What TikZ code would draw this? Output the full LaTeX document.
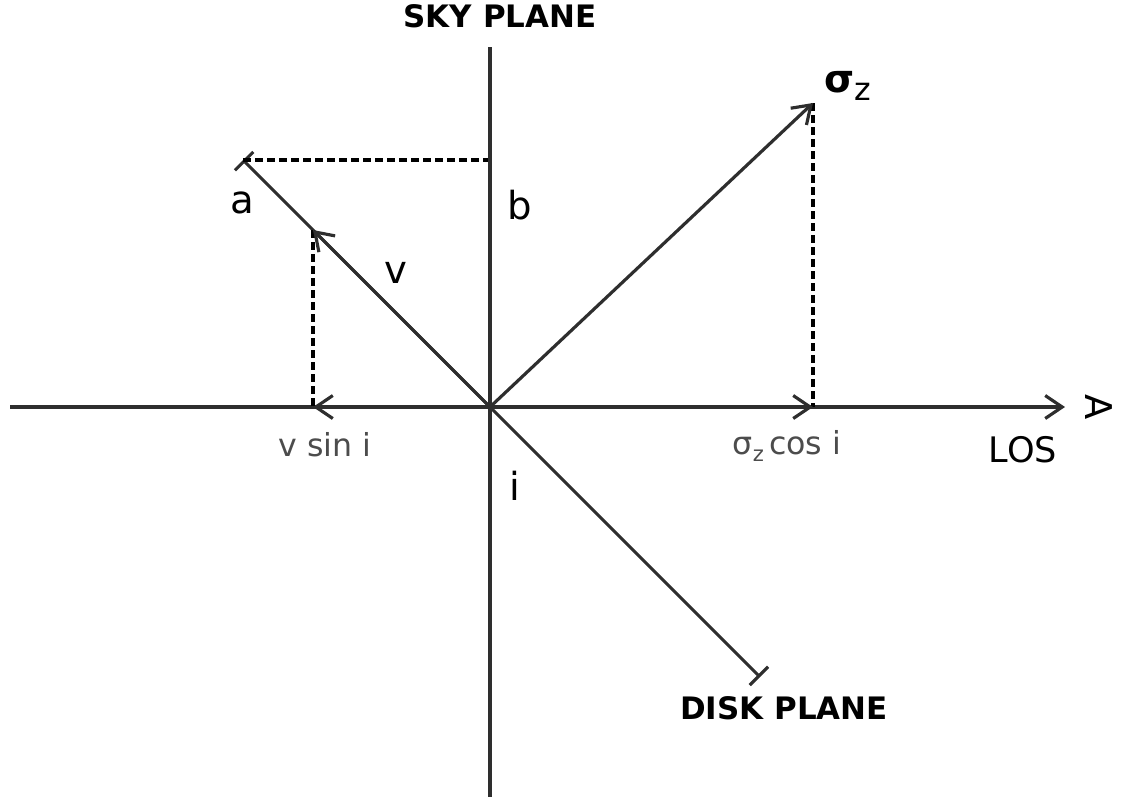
\documentclass[tikz,border=0pt]{standalone}
\usepackage{fontspec}
\setmainfont{DejaVu Sans}
\usetikzlibrary{arrows.meta,positioning}

\begin{document}
\begin{tikzpicture}[x=0.1mm,y=-0.1mm,
  axis/.style={line width=0.9pt, draw=black!82},
  vec/.style={axis, -{Straight Barb[length=1.7mm,width=2.3mm,line width=0.9pt]}},
  proj/.style={line width=1pt, dash pattern=on 0.8mm off 0.4mm},
  lbl/.style={font=\fontsize{11}{13}\selectfont},
  gry/.style={font=\fontsize{9}{11}\selectfont, text=black!70},
  ttl/.style={font=\fontsize{8.8}{11}\selectfont\bfseries}]
\useasboundingbox (0,0) rectangle (1125,801);

% main points
\coordinate (O) at (490,407);
\coordinate (skyT) at (490,47);
\coordinate (skyB) at (490,797);
\coordinate (losL) at (10,407);
\coordinate (losR) at (1065,407);
\coordinate (aEnd) at (243,160);
\coordinate (dEnd) at (760,677);
\coordinate (bPt) at (488,160);
\coordinate (vTip) at (313,230);
\coordinate (vProj) at (313,407);
\coordinate (sTip) at (813,103);
\coordinate (sProj) at (813,407);

% axes
\draw[axis] (skyT) -- (skyB);
\draw[vec] (losL) -- (losR);
\draw[axis, {Bar[width=2.6mm,line width=0.9pt]}-{Bar[width=2.6mm,line width=0.9pt]}] (aEnd) -- (dEnd);

% projections
\draw[proj] (aEnd) -- (bPt);
\draw[proj] (vTip) -- (vProj);
\draw[proj] (sTip) -- (sProj);

% vectors
\draw[vec] (O) -- (vTip);
\draw[vec] (O) -- (vProj);
\draw[vec] (O) -- (sTip);
\draw[vec] (O) -- (sProj);

% labels
\node[ttl] (sky) at (500,16) {SKY PLANE};
\node[ttl] (disk) at (784,708) {DISK PLANE};
\node[lbl] (la) at (242,203) {a};
\node[lbl] (lb) at (520,205) {b};
\node[lbl] (lv) at (396,273) {v};
\node[lbl] (li) at (515,486) {i};
\node[lbl, anchor=west] (lsig) at (812,86) {\textbf{σ}\raisebox{-0.35ex}{\fontsize{9}{11}\selectfont z}};
\node[gry] (lvsin) at (325,445) {v sin i};
\node[gry] (lscos) at (787,446) {σ\raisebox{-0.4ex}{\fontsize{6}{7}\selectfont z}\,cos i};
\node[font=\fontsize{10}{12}\selectfont] (los) at (1023,450) {LOS};
\node[font=\fontsize{10.5}{12}\selectfont, rotate=-90] (obs) at (1099,407) {A};
\end{tikzpicture}
\end{document}
